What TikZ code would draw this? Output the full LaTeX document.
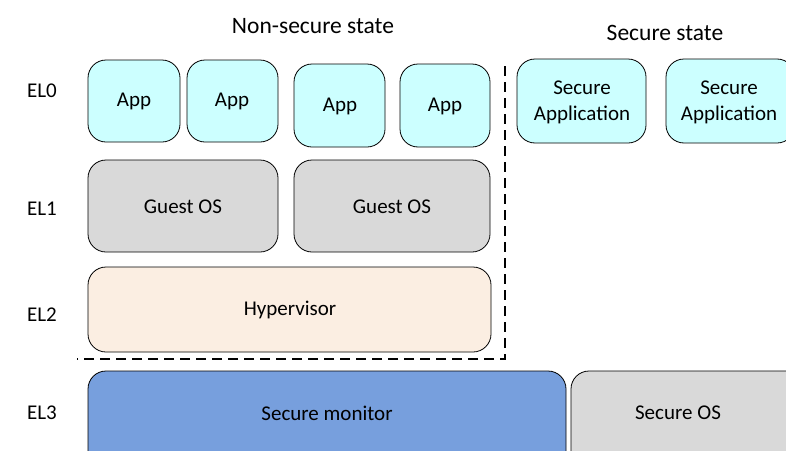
\documentclass[tikz,border=0pt]{standalone}
\usepackage{fontspec}
\setmainfont{Carlito}
\definecolor{appc}{HTML}{CCFFFF}
\definecolor{osc}{HTML}{D9D9D9}
\definecolor{hypc}{HTML}{FBEEE2}
\definecolor{monc}{HTML}{779FDD}
\begin{document}
\begin{tikzpicture}[x=1pt,y=-1pt,
  blk/.style={draw=black,line width=0.8pt,rounded corners=18pt},
  txt/.style={align=center,inner sep=0pt,font=\fontsize{21}{26}\selectfont},
  lbl/.style={inner sep=0pt,font=\fontsize{21}{26}\selectfont},
  ttl/.style={inner sep=0pt,font=\fontsize{23.5}{28}\selectfont},
  sep/.style={draw=black,line width=1.1pt,dash pattern=on 10pt off 6pt}]
\useasboundingbox (0,0) rectangle (786,450);
\clip (0,0) rectangle (786,450);
\path[blk,fill=appc] (88,60) rectangle (180,142);
\path[blk,fill=appc] (187,60) rectangle (278,142);
\path[blk,fill=appc] (294,64) rectangle (385,147);
\path[blk,fill=appc] (400,64) rectangle (490,147);
\path[blk,fill=appc] (517,59) rectangle (646,143);
\path[blk,fill=appc] (666,59) rectangle (795,143);
\path[blk,fill=osc] (88,160) rectangle (278,252);
\path[blk,fill=osc] (294,160) rectangle (490,252);
\path[blk,fill=hypc] (88,267) rectangle (491,352);
\path[blk,fill=monc] (88,371) rectangle (566,470);
\path[blk,fill=osc] (571,371) rectangle (810,470);
\node[txt] (a1) at (134,101) {App};
\node[txt] (a2) at (232,101) {App};
\node[txt] (a3) at (340,106) {App};
\node[txt] (a4) at (445,106) {App};
\node[txt] (s1) at (582,102) {Secure\\Application};
\node[txt] (s2) at (729,102) {Secure\\Application};
\node[txt] (g1) at (183,207) {Guest OS};
\node[txt] (g2) at (392,207) {Guest OS};
\node[txt] (hv) at (290,310) {Hypervisor};
\node[txt] (sm) at (327,413) {Secure monitor};
\node[txt] (so) at (678,413) {Secure OS};
\coordinate (d1) at (505,66);
\coordinate (d2) at (505,359);
\coordinate (d3) at (77,359);
\draw[sep] (d1) -- (d2) -- (d3);
\node[lbl] (e0) at (42,91) {EL0};
\node[lbl] (e1) at (42,209) {EL1};
\node[lbl] (e2) at (42,315) {EL2};
\node[lbl] (e3) at (42,413) {EL3};
\node[ttl] (ns) at (313,26) {Non-secure state};
\node[ttl] (ss) at (665,33) {Secure state};
\end{tikzpicture}
\end{document}
